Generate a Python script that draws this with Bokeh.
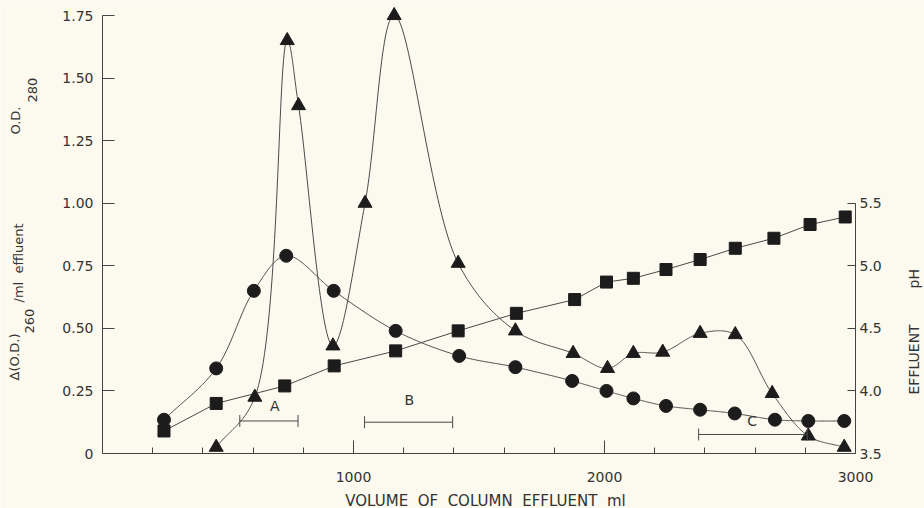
import numpy as np
from bokeh.plotting import figure
from bokeh.models import Range1d, LinearAxis, FixedTicker, Label, PrintfTickFormatter
from bokeh.core.properties import value
from bokeh.embed import file_html
from bokeh.resources import INLINE

# ---- data ----
vol_tri = [453, 607, 736, 781, 918, 1046, 1162, 1417, 1645, 1875, 2012, 2115, 2232, 2381, 2521, 2668, 2812, 2955]
od280 = [0.025, 0.225, 1.65, 1.39, 0.43, 1.00, 1.75, 0.76, 0.49, 0.40, 0.34, 0.40, 0.405, 0.48, 0.475, 0.24, 0.07, 0.025]

vol_circ = [245, 453, 603, 732, 921, 1168, 1421, 1645, 1871, 2008, 2115, 2245, 2381, 2519, 2679, 2812, 2955]
d260 = [0.135, 0.34, 0.65, 0.79, 0.65, 0.49, 0.39, 0.345, 0.29, 0.25, 0.22, 0.19, 0.175, 0.16, 0.135, 0.13, 0.13]

vol_sq = [245, 453, 726, 923, 1168, 1417, 1649, 1881, 2008, 2115, 2245, 2381, 2521, 2675, 2819, 2959]
ph = [3.68, 3.90, 4.04, 4.20, 4.32, 4.48, 4.62, 4.73, 4.87, 4.90, 4.97, 5.05, 5.14, 5.22, 5.33, 5.39]

pool_names = ["A", "B", "C"]
pool_start = [547, 1044, 2375]
pool_end = [779, 1395, 2808]
pool_y = [0.13, 0.125, 0.076]
pool_label_x = [686, 1222, 2588]
pool_label_y = [0.19, 0.215, 0.13]

x_major = [1000, 2000, 3000]
x_minor = [200, 400, 600, 800, 1200, 1400, 1600, 1800, 2200, 2400, 2600, 2800]
y_ticks = [0, 0.25, 0.5, 0.75, 1.0, 1.25, 1.5, 1.75]
y_labels = ["0", "0.25", "0.50", "0.75", "1.00", "1.25", "1.50", "1.75"]
ph_ticks = [3.5, 4.0, 4.5, 5.0, 5.5]

BG = "#fcf9ee"
INK = "#1c1c1c"
LINE = "#4a4a4a"
AXC = "#444444"
TXT = "#333333"
FONT = "DejaVu Sans"

# page-pixel helpers (frame fills the whole canvas; axes sit at fixed data locations)
ML_PER_PX = 3000 / 753.0
PX_PER_OD = 438 / 1.75


def xd(px):
    return (px - 102) * ML_PER_PX


def yd(py):
    return (453 - py) / PX_PER_OD


W, H = 924, 508
p = figure(width=W, height=H, output_backend="svg", toolbar_location=None,
           x_range=Range1d(xd(0), xd(W)), y_range=Range1d(yd(H), yd(0)),
           x_axis_location=None, y_axis_location=None,
           min_border=0, min_border_left=0, min_border_right=0,
           min_border_top=0, min_border_bottom=0)
p.background_fill_color = BG
p.border_fill_color = BG
p.outline_line_color = None
p.grid.visible = False
p.extra_y_ranges = {"ph": Range1d(3.5 + 2 * yd(H), 3.5 + 2 * yd(0))}

# smooth curve drawing (centripetal Catmull-Rom in screen-scaled space)
SX = 1 / ML_PER_PX
SY = PX_PER_OD


def smooth(xs, ys, sy=SY, n=40):
    P = np.column_stack([np.asarray(xs, float) * SX, np.asarray(ys, float) * sy])
    P = np.vstack([2 * P[0] - P[1], P, 2 * P[-1] - P[-2]])
    out = []
    for i in range(1, len(P) - 2):
        p0, p1, p2, p3 = P[i - 1], P[i], P[i + 1], P[i + 2]
        t0 = 0.0
        t1 = t0 + np.linalg.norm(p1 - p0) ** 0.5 + 1e-9
        t2 = t1 + np.linalg.norm(p2 - p1) ** 0.5 + 1e-9
        t3 = t2 + np.linalg.norm(p3 - p2) ** 0.5 + 1e-9
        t = np.linspace(t1, t2, n)[:, None]
        A1 = (t1 - t) / (t1 - t0) * p0 + (t - t0) / (t1 - t0) * p1
        A2 = (t2 - t) / (t2 - t1) * p1 + (t - t1) / (t2 - t1) * p2
        A3 = (t3 - t) / (t3 - t2) * p2 + (t - t2) / (t3 - t2) * p3
        B1 = (t2 - t) / (t2 - t0) * A1 + (t - t0) / (t2 - t0) * A2
        B2 = (t3 - t) / (t3 - t1) * A2 + (t - t1) / (t3 - t1) * A3
        C = (t2 - t) / (t2 - t1) * B1 + (t - t1) / (t2 - t1) * B2
        out.append(C)
    C = np.vstack(out)
    return C[:, 0] / SX, C[:, 1] / sy


tx, ty = smooth(vol_tri, od280)
p.line(tx, ty, line_color=LINE, line_width=1)
cx, cy = smooth(vol_circ, d260)
p.line(cx, cy, line_color=LINE, line_width=1)
p.line(vol_sq, ph, y_range_name="ph", line_color=LINE, line_width=1)

p.scatter(vol_tri, od280, marker="triangle", size=14, fill_color=INK, line_color=INK)
p.scatter(vol_circ, d260, marker="circle", size=13, fill_color=INK, line_color=INK)
p.scatter(vol_sq, ph, y_range_name="ph", marker="square", size=12, fill_color=INK, line_color=INK)

# pooled fractions
p.segment(x0=pool_start, y0=pool_y, x1=pool_end, y1=pool_y, line_color=LINE, line_width=1)
p.scatter(pool_start + pool_end, pool_y + pool_y, marker="dash", angle=np.pi / 2,
          size=12, line_color=LINE, line_width=1)
p.text(pool_label_x, pool_label_y, text=pool_names, text_font=value(FONT),
       text_font_size="14px", text_color=TXT, text_align="center", text_baseline="middle")


def style(ax):
    ax.axis_line_color = AXC
    ax.major_tick_line_color = AXC
    ax.minor_tick_line_color = AXC
    ax.major_label_text_font = FONT
    ax.major_label_text_font_size = "14px"
    ax.major_label_text_color = TXT
    ax.major_tick_out = 0
    ax.minor_tick_out = 0


# bottom axis at OD = 0
xa = LinearAxis(fixed_location=0, bounds=(0, 3000),
                ticker=FixedTicker(ticks=x_major, minor_ticks=x_minor))
style(xa)
xa.major_tick_in = 13
xa.minor_tick_in = 6
xa.major_label_standoff = 18
p.add_layout(xa, "below")

# left axis at volume = 0
ya = LinearAxis(fixed_location=0, bounds=(0, 1.75),
                ticker=FixedTicker(ticks=y_ticks, minor_ticks=[]))
ya.major_label_overrides = {t: l for t, l in zip(y_ticks, y_labels)}
style(ya)
ya.major_tick_in = 12
ya.minor_tick_line_color = None
ya.major_label_standoff = 9
p.add_layout(ya, "left")

# right pH axis at volume = 3000
ra = LinearAxis(y_range_name="ph", fixed_location=3000, bounds=(3.5, 5.5),
                ticker=FixedTicker(ticks=ph_ticks, minor_ticks=[]),
                formatter=PrintfTickFormatter(format="%.1f"))
style(ra)
ra.major_tick_in = 8
ra.minor_tick_line_color = None
ra.major_label_standoff = 4
p.add_layout(ra, "right")


# axis titles (as text annotations inside the full-canvas frame)
def lab(px, py, text, angle=0.0, align="left", base="alphabetic", size="13px"):
    p.add_layout(Label(x=xd(px), y=yd(py), text=text, angle=angle, text_align=align,
                       text_baseline=base, text_font=FONT, text_font_size=size,
                       text_color=TXT))


NB = "\u00a0"
lab(14, 380, "\u0394(O.D.)", angle=np.pi / 2)
lab(29, 333, "260", angle=np.pi / 2)
lab(18, 302, "/ml" + NB + NB + "effluent", angle=np.pi / 2)
lab(15, 134, "O.D.", angle=np.pi / 2)
lab(32, 102, "280", angle=np.pi / 2)
lab(913, 394, "EFFLUENT", angle=np.pi / 2, size="14px")
lab(913, 288, "pH", angle=np.pi / 2, size="14px")
sep = NB + NB
lab(485, 500, sep.join(["VOLUME", "OF", "COLUMN", "EFFLUENT", "ml"]),
    align="center", base="middle", size="15px")

open("out.html", "w").write(file_html(p, INLINE))
